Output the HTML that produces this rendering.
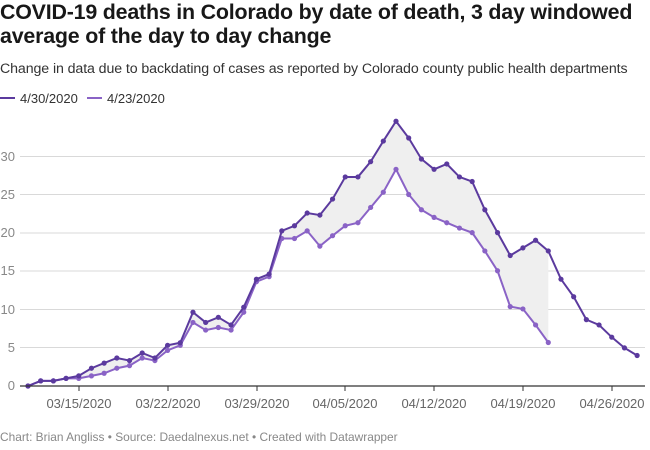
<!DOCTYPE html>
<html><head><meta charset="utf-8"><style>
body{margin:0;width:650px;height:450px;background:#fff;font-family:"Liberation Sans",sans-serif;overflow:hidden;position:relative}
.t{position:absolute;left:0;top:0;font-size:21.4px;font-weight:bold;color:#181818;line-height:24px;letter-spacing:-0.2px}
.s{position:absolute;left:0;top:61px;font-size:14.2px;color:#333;letter-spacing:-0.1px}
.f{position:absolute;left:0;top:430px;font-size:11.9px;color:#888}
svg{position:absolute;left:0;top:0}
</style></head><body>
<div class="t">COVID-19 deaths in Colorado by date of death, 3 day windowed<br>average of the day to day change</div>
<div class="s">Change in data due to backdating of cases as reported by Colorado county public health departments</div>
<div class="f">Chart: Brian Angliss • Source: Daedalnexus.net • Created with Datawrapper</div>
<svg width="650" height="450" id="c" font-family="Liberation Sans, sans-serif">
<line x1="0" y1="98" x2="15" y2="98" stroke="#5b3a9e" stroke-width="2"/>
<text x="20" y="103" font-size="13" fill="#333">4/30/2020</text>
<line x1="87" y1="98" x2="102" y2="98" stroke="#8a63c6" stroke-width="2"/>
<text x="107" y="103" font-size="13" fill="#333">4/23/2020</text>
<g stroke="#d9d9d9" stroke-width="1">
<line x1="20" y1="156.5" x2="645" y2="156.5"/><line x1="20" y1="194.5" x2="645" y2="194.5"/>
<line x1="20" y1="233" x2="645" y2="233"/><line x1="20" y1="271" x2="645" y2="271"/>
<line x1="20" y1="309.5" x2="645" y2="309.5"/><line x1="20" y1="347.5" x2="645" y2="347.5"/>
</g>
<g font-size="13" fill="#888" text-anchor="end">
<text x="15" y="161">30</text><text x="15" y="199">25</text><text x="15" y="237">20</text>
<text x="15" y="275">15</text><text x="15" y="314">10</text><text x="15" y="352">5</text><text x="15" y="390">0</text>
</g>
<g font-size="13" fill="#666" text-anchor="middle">
<text x="79" y="408">03/15/2020</text><text x="168" y="408">03/22/2020</text><text x="257" y="408">03/29/2020</text>
<text x="345" y="408">04/05/2020</text><text x="434" y="408">04/12/2020</text><text x="523" y="408">04/19/2020</text><text x="612" y="408">04/26/2020</text>
</g>
<g stroke="#333" stroke-width="1"><line x1="79" y1="386" x2="79" y2="391"/><line x1="168" y1="386" x2="168" y2="391"/><line x1="257" y1="386" x2="257" y2="391"/><line x1="345" y1="386" x2="345" y2="391"/><line x1="434" y1="386" x2="434" y2="391"/><line x1="523" y1="386" x2="523" y2="391"/><line x1="612" y1="386" x2="612" y2="391"/></g>
<g id="d"></g>
<line x1="20" y1="386" x2="645" y2="386" stroke="#333" stroke-width="1.3"/>
</svg>
<script>
var A=[0,0.67,0.67,1,1.33,2.33,3,3.67,3.33,4.33,3.67,5.33,5.67,9.67,8.33,9,8,10.33,14,14.67,20.33,21,22.67,22.4,24.5,27.4,27.4,29.4,32.1,34.7,32.5,29.75,28.4,29.1,27.4,26.8,23.1,20.1,17.1,18.1,19.1,17.7,14,11.7,8.7,8,6.4,5,4];
var B=[0,0.67,0.67,1,1,1.33,1.67,2.33,2.67,3.67,3.33,4.67,5.33,8.33,7.33,7.67,7.33,9.67,13.67,14.33,19.33,19.33,20.33,18.33,19.7,21,21.4,23.4,25.4,28.4,25.1,23.1,22.1,21.4,20.7,20.1,17.7,15.1,10.4,10.1,8,5.7];
function X(i){return 28+i*12.69}function Y(v){return 386-v*7.63}
var n=B.length,s="",pa="",pb="";
for(var i=0;i<n;i++)s+=(i?"L":"M")+X(i)+","+Y(A[i]);
for(var i=n-1;i>=0;i--)s+="L"+X(i)+","+Y(B[i]);
A.forEach(function(v,i){pa+=(i?"L":"M")+X(i)+","+Y(v)});
B.forEach(function(v,i){pb+=(i?"L":"M")+X(i)+","+Y(v)});
var h='<path d="'+s+'Z" fill="#efefef"/>';
h+='<path d="'+pb+'" fill="none" stroke="#8a63c6" stroke-width="2"/>';
B.forEach(function(v,i){h+='<circle cx="'+X(i)+'" cy="'+Y(v)+'" r="2.6" fill="#8a63c6"/>'});
h+='<path d="'+pa+'" fill="none" stroke="#5b3a9e" stroke-width="2"/>';
A.forEach(function(v,i){h+='<circle cx="'+X(i)+'" cy="'+Y(v)+'" r="2.6" fill="#5b3a9e"/>'});
document.getElementById("d").innerHTML=h;
</script>
</body></html>
